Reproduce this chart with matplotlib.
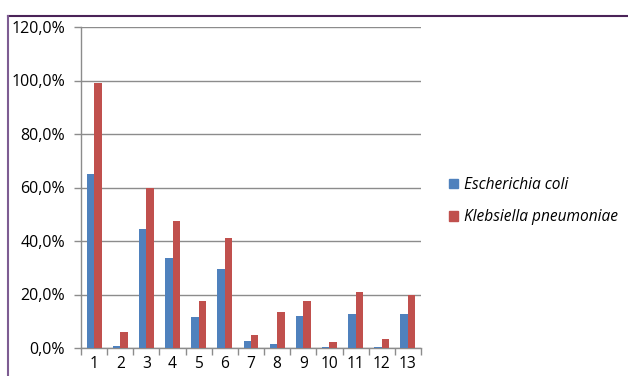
import matplotlib.pyplot as plt
import numpy as np
from matplotlib.lines import Line2D
from matplotlib.ticker import FuncFormatter, FixedLocator

categories = [str(i) for i in range(1, 14)]
ecoli = [65.0, 0.9, 44.5, 33.8, 11.5, 29.4, 2.5, 1.4, 12.1, 0.3, 12.7, 0.5, 12.7]
klebsiella = [99.2, 6.1, 60.0, 47.5, 17.6, 41.0, 4.7, 13.6, 17.6, 2.4, 20.9, 3.2, 19.8]
series_names = ['Escherichia coli', 'Klebsiella pneumoniae']
colors = ['#4f81bd', '#c0504d']

plt.rcParams['font.family'] = ['Open Sans', 'DejaVu Sans']

W, H = 628, 376
fig = plt.figure(figsize=(W / 100, H / 100), dpi=100)
ax = fig.add_axes([81 / W, 1 - 348 / H, 340 / W, 321 / H])

x = np.arange(len(categories))
bw = 0.285
ax.bar(x - bw / 2, ecoli, bw, color=colors[0], label=series_names[0], zorder=3)
ax.bar(x + bw / 2, klebsiella, bw, color=colors[1], label=series_names[1], zorder=3)

ax.set_xlim(-0.5, len(categories) - 0.5)
ax.set_ylim(0, 120)
ax.set_yticks(np.arange(0, 121, 20))
ax.yaxis.set_major_formatter(FuncFormatter(lambda v, p: f'{v:.1f}%'.replace('.', ',')))
ax.yaxis.grid(True, color='#8c8c8c', linewidth=1.0, zorder=0)

# category labels in the middle, tick marks between categories
ax.set_xticks(x)
ax.set_xticklabels(categories)
ax.tick_params(axis='x', which='major', length=0, pad=6, labelsize=11.2)
ax.xaxis.set_minor_locator(FixedLocator(np.arange(-0.5, len(categories), 1)))
ax.tick_params(axis='x', which='minor', length=5, color='#8c8c8c', width=1)
ax.tick_params(axis='y', length=5, color='#8c8c8c', width=1, labelsize=11.5, pad=6.5)

for s in ['top', 'right']:
    ax.spines[s].set_visible(False)
for s in ['left', 'bottom']:
    ax.spines[s].set_color('#8c8c8c')
    ax.spines[s].set_linewidth(1)

handles = [plt.Rectangle((0, 0), 1, 1, color=c) for c in colors]
leg = fig.legend(handles, series_names, loc='upper left',
                 bbox_to_anchor=(435 / W, 1 - 163 / H), frameon=False,
                 prop={'style': 'italic', 'size': 11.2},
                 handlelength=0.6, handleheight=0.6, handletextpad=0.35,
                 labelspacing=1.05)

# outer chart frame
fig.add_artist(Line2D([8 / W, 1], [1 - 15.5 / H, 1 - 15.5 / H], color='#4b2358', linewidth=1.5))
fig.add_artist(Line2D([8 / W, 8 / W], [0, 1 - 15.5 / H], color='#7d5c92', linewidth=1.5))

fig.savefig('out.png', dpi=100)
